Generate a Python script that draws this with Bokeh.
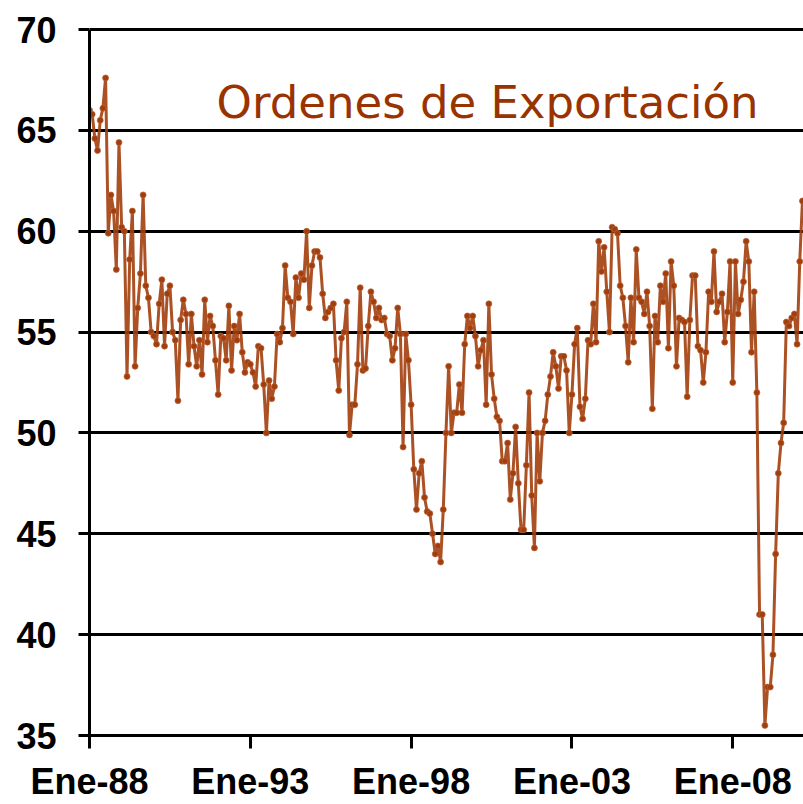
from bokeh.plotting import figure
from bokeh.models import Range1d, FixedTicker, Label, ColumnDataSource
from bokeh.embed import file_html
from bokeh.resources import INLINE

# Monthly values, Jan-1988 onwards
ordenes_1988_1992 = [
    66.0, 65.8, 64.6, 64.0, 65.5, 66.1, 67.6, 59.9, 61.8, 61.0, 58.1, 64.4,
    60.2, 60.0, 52.8, 58.6, 61.0, 53.3, 56.2, 57.9, 61.8, 57.3, 56.7, 55.0,
    54.8, 54.4, 56.4, 57.6, 54.3, 56.9, 57.3, 55.0, 54.6, 51.6, 55.6, 56.6,
    55.9, 53.4, 55.9, 54.3, 53.3, 54.6, 52.9, 56.6, 54.5, 55.8, 55.3, 53.6,
    51.9, 54.8, 54.7, 53.6, 56.3, 53.1, 55.3, 54.6, 55.9, 54.0, 53.0, 53.5,
]
ordenes_1993_1997 = [
    53.4, 53.0, 52.3, 54.3, 54.2, 52.4, 50.0, 52.6, 51.7, 52.3, 54.9, 54.5,
    55.2, 58.3, 56.7, 56.5, 54.9, 57.7, 56.7, 57.9, 57.6, 60.0, 56.2, 58.3,
    59.0, 59.0, 58.7, 56.9, 55.7, 56.0, 56.2, 56.4, 53.6, 52.1, 54.7, 55.0,
    56.5, 49.9, 51.4, 51.4, 53.4, 57.2, 53.1, 53.2, 55.3, 57.0, 56.5, 55.7,
    56.2, 55.6, 55.7, 54.9, 54.8, 53.6, 54.2, 56.2, 54.9, 49.3, 54.9, 53.6,
]
ordenes_1998_2002 = [
    51.4, 48.2, 46.2, 48.0, 48.6, 46.8, 46.1, 46.0, 45.0, 44.0, 44.4, 43.6,
    46.2, 50.0, 53.3, 50.0, 51.0, 51.0, 52.4, 51.0, 54.4, 55.8, 55.2, 55.8,
    54.8, 53.3, 54.1, 54.6, 51.4, 56.4, 52.9, 51.7, 50.8, 50.6, 48.6, 48.6,
    49.5, 46.7, 48.0, 50.3, 47.5, 45.2, 45.2, 48.4, 52.0, 46.9, 44.3, 50.0,
    47.6, 50.0, 50.6, 51.9, 52.8, 54.0, 53.3, 52.2, 53.8, 53.8, 53.1, 50.0,
]
ordenes_2003_2007 = [
    51.9, 54.4, 55.2, 51.3, 50.7, 51.7, 54.6, 54.4, 56.4, 54.5, 59.5, 58.0,
    59.2, 57.0, 55.0, 60.2, 60.1, 59.9, 57.3, 56.7, 55.3, 53.5, 56.7, 54.5,
    59.1, 56.7, 56.5, 55.9, 57.0, 55.3, 51.2, 55.8, 54.5, 57.3, 56.5, 57.9,
    54.2, 58.5, 57.3, 53.3, 55.7, 55.6, 55.5, 51.8, 55.6, 57.8, 57.8, 54.3,
    54.1, 52.5, 54.0, 57.0, 56.5, 59.0, 56.0, 56.5, 56.9, 54.5, 56.0, 58.5,
]
ordenes_2008_2010 = [
    52.5, 58.5, 55.9, 56.6, 57.5, 59.5, 58.5, 54.0, 57.0, 52.0, 41.0, 41.0,
    35.5, 37.4, 37.4, 39.0, 44.0, 48.0, 49.5, 50.5, 55.5, 55.3, 55.7, 55.9,
    54.4, 58.5, 61.5,
]

tick_months = [0, 60, 120, 180, 240]
tick_labels = ["Ene-88", "Ene-93", "Ene-98", "Ene-03", "Ene-08"]
y_ticks = [35, 40, 45, 50, 55, 60, 65, 70]
title_text = "Ordenes de Exportación"

values = (ordenes_1988_1992 + ordenes_1993_1997 + ordenes_1998_2002
          + ordenes_2003_2007 + ordenes_2008_2010)
months = list(range(len(values)))
src = ColumnDataSource(data=dict(m=months, v=values))

LINE = "#A23E0C"

p = figure(width=803, height=804, output_backend="svg", toolbar_location=None,
           x_range=Range1d(0, 266.4), y_range=Range1d(35, 70.1),
           min_border_left=89, min_border_right=0, min_border_top=27,
           min_border_bottom=69)
p.outline_line_color = None
p.background_fill_color = "white"
p.border_fill_color = "white"

p.xgrid.visible = False
p.ygrid.ticker = FixedTicker(ticks=y_ticks)
p.ygrid.grid_line_color = "black"
p.ygrid.grid_line_width = 3

for ax in (p.xaxis[0], p.yaxis[0]):
    ax.axis_line_color = "black"
    ax.axis_line_width = 3
    ax.major_tick_line_color = "black"
    ax.major_tick_line_width = 3
    ax.major_tick_in = 0
    ax.minor_tick_line_color = None
    ax.major_label_text_font = "Liberation Sans"
    ax.major_label_text_font_style = "bold"
    ax.major_label_text_font_size = "36px"
    ax.major_label_text_color = "black"

p.yaxis.ticker = FixedTicker(ticks=y_ticks)
p.yaxis.bounds = (35, 70)
p.yaxis.major_tick_out = 11
p.yaxis.major_label_standoff = 22

p.xaxis.ticker = FixedTicker(ticks=tick_months)
p.xaxis.major_label_overrides = dict(zip(tick_months, tick_labels))
p.xaxis.major_tick_out = 13
p.xaxis.major_label_standoff = 12

p.line("m", "v", source=src, line_color=LINE, line_width=3, line_alpha=0.9)
p.scatter("m", "v", source=src, marker="circle", size=6,
          fill_color=LINE, line_color="#B8643C", line_alpha=0.7, line_width=1)

p.add_layout(Label(x=47.4, y=66.4, text=title_text, text_font="DejaVu Sans",
                   text_font_size="45px", text_color="#993300",
                   text_baseline="alphabetic", text_align="left"))

open("out.html", "w").write(file_html(p, INLINE))
